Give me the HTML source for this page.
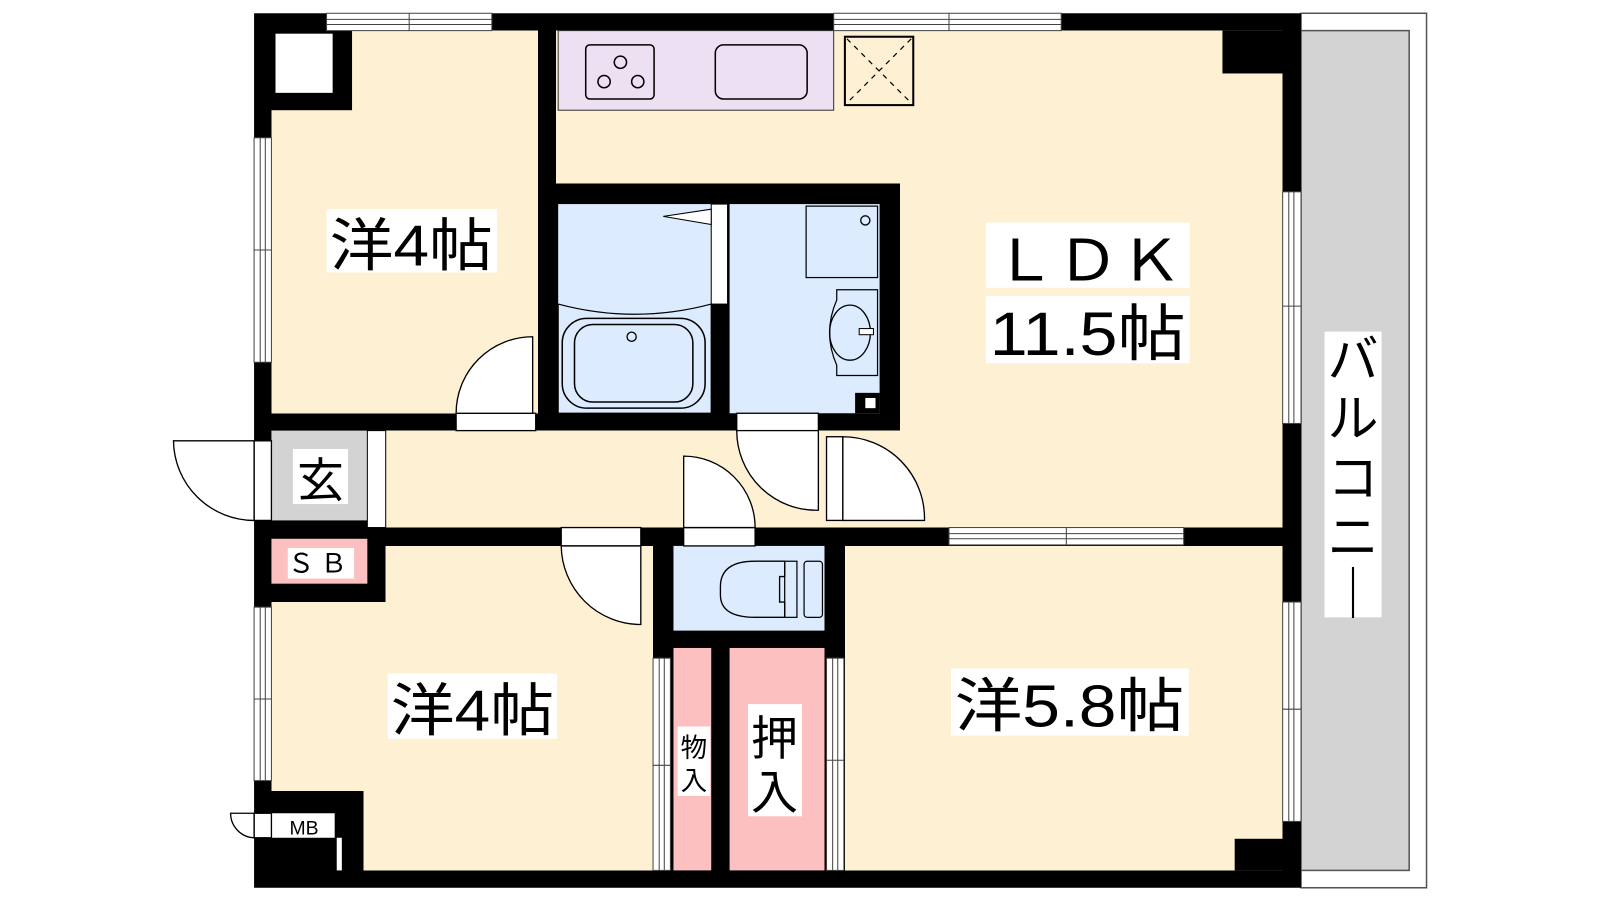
<!DOCTYPE html>
<html><head><meta charset="utf-8"><style>
html,body{margin:0;padding:0;background:#fff;width:1600px;height:900px;overflow:hidden}
svg{display:block}
text{font-family:"Liberation Sans","Noto Sans CJK JP",sans-serif;fill:#000}
</style></head><body>
<svg width="1600" height="900" viewBox="0 0 1568 882" xmlns="http://www.w3.org/2000/svg">
<!-- balcony -->
<rect x="1275" y="13" width="123" height="857" fill="#fff" stroke="#555" stroke-width="1.5"/>
<rect x="1275" y="30" width="106" height="823" fill="#d3d3d3" stroke="#555" stroke-width="1.5"/>
<!-- building mass -->
<rect x="249" y="13" width="1026" height="857" fill="#000"/>
<!-- rooms cream -->
<g fill="#fdf0d3" shape-rendering="crispEdges">
<path d="M266 108 L345 108 L345 30 L527 30 L527 405 L266 405 Z"/>
<path d="M545 30 L1257 30 L1257 517 L882 517 L882 422 L882 180 L545 180 Z"/>
<rect x="378" y="422" width="505" height="95"/>
<path d="M378 535 L640 535 L640 853 L356 853 L356 775 L266 775 L266 590 L378 590 Z"/>
<rect x="828" y="535" width="429" height="318"/>
</g>
<rect x="1198" y="30" width="59" height="42" fill="#000"/>
<rect x="1210" y="822" width="47" height="31" fill="#000"/>
<rect x="266" y="30" width="79" height="78" fill="#000"/>
<rect x="270" y="33" width="56" height="58" fill="#fff"/>
<!-- kitchen -->
<rect x="547" y="30" width="270" height="78" fill="#ede0f3" stroke="#333" stroke-width="1"/>
<rect x="574" y="44" width="67" height="53" rx="4" fill="none" stroke="#000" stroke-width="1.5"/>
<circle cx="608" cy="61" r="6" fill="none" stroke="#000" stroke-width="1.5"/>
<circle cx="592" cy="80" r="6" fill="none" stroke="#000" stroke-width="1.5"/>
<circle cx="625" cy="80" r="6" fill="none" stroke="#000" stroke-width="1.5"/>
<rect x="701" y="44" width="90" height="53" rx="8" fill="none" stroke="#000" stroke-width="1.5"/>
<rect x="828" y="36" width="67" height="67" fill="none" stroke="#000" stroke-width="2"/>
<path d="M830 38 L893 101 M893 38 L830 101" stroke="#000" stroke-width="1.2" stroke-dasharray="5,5"/>
<!-- bath & wash -->
<rect x="547" y="200" width="150" height="205" fill="#dcebfd"/>
<rect x="715" y="200" width="147" height="205" fill="#dcebfd"/>
<rect x="838" y="385" width="24" height="20" fill="#000"/>
<rect x="848" y="390" width="10" height="10" fill="#fff"/>
<rect x="697" y="200" width="16" height="98" fill="#fff" stroke="#000" stroke-width="1"/>
<path d="M697 205 L650 212 L697 220 Z" fill="#fff" stroke="#000" stroke-width="1"/>
<path d="M547 298 Q622 318 697 298 L697 405 L547 405 Z" fill="#dcebfd" stroke="#000" stroke-width="1.2"/>
<rect x="551" y="312" width="140" height="88" rx="24" fill="none" stroke="#000" stroke-width="1.5"/>
<rect x="563" y="318" width="116" height="76" rx="18" fill="none" stroke="#000" stroke-width="1.5"/>
<circle cx="619" cy="330" r="4.5" fill="none" stroke="#000" stroke-width="1.3"/>
<rect x="790" y="202" width="70" height="70" fill="#dcebfd" stroke="#000" stroke-width="1.2"/>
<circle cx="848" cy="216" r="4.5" fill="none" stroke="#000" stroke-width="1.3"/>
<path d="M820 284 L860 284 L860 368 L820 368 L820 358 Q806 326 820 294 Z" fill="#dcebfd" stroke="#000" stroke-width="1.2"/>
<ellipse cx="833" cy="326" rx="20" ry="27" fill="none" stroke="#000" stroke-width="1.3"/>
<rect x="842" y="322" width="14" height="6" fill="#fff" stroke="#000" stroke-width="1"/>
<!-- entrance -->
<rect x="266" y="422" width="94" height="88" fill="#d3d3d3"/>
<rect x="360" y="422" width="18" height="95" fill="#fff" stroke="#000" stroke-width="1"/>
<rect x="266" y="528" width="94" height="44" fill="#fcc0c0"/>
<!-- toilet -->
<rect x="660" y="535" width="148" height="83" fill="#dcebfd"/>
<path d="M769 550 L740 550 Q706 550 706 575 L706 583 Q706 605 740 605 L769 605 L769 590 L764 590 L764 565 L769 565 Z" fill="none" stroke="#000" stroke-width="1.3"/>
<rect x="769" y="550" width="12" height="55" fill="none" stroke="#000" stroke-width="1.2"/>
<rect x="788" y="550" width="18" height="55" rx="3" fill="none" stroke="#000" stroke-width="1.2"/>
<!-- closets -->
<rect x="660" y="635" width="37" height="218" fill="#fcc0c0"/>
<rect x="715" y="635" width="93" height="218" fill="#fcc0c0"/>
<!-- MB -->
<rect x="266" y="797" width="62" height="24" fill="#fff"/>
<rect x="330" y="821" width="5" height="32" fill="#fff"/>
<!-- windows -->
<g fill="#fff" stroke="#444" stroke-width="1">
<rect x="320" y="13" width="162" height="17"/><line x1="320" y1="19" x2="482" y2="19"/><line x1="320" y1="24" x2="482" y2="24"/><line x1="401" y1="13" x2="401" y2="30"/>
<rect x="817" y="13" width="223" height="17"/><line x1="817" y1="19" x2="1040" y2="19"/><line x1="817" y1="24" x2="1040" y2="24"/><line x1="930" y1="13" x2="930" y2="30"/>
<rect x="249" y="135" width="17" height="220"/><line x1="255" y1="135" x2="255" y2="355"/><line x1="260" y1="135" x2="260" y2="355"/><line x1="249" y1="245" x2="266" y2="245"/>
<rect x="249" y="595" width="17" height="170"/><line x1="255" y1="595" x2="255" y2="765"/><line x1="260" y1="595" x2="260" y2="765"/><line x1="249" y1="685" x2="266" y2="685"/>
<rect x="1257" y="188" width="18" height="227"/><line x1="1263" y1="188" x2="1263" y2="415"/><line x1="1268" y1="188" x2="1268" y2="415"/><line x1="1257" y1="300" x2="1275" y2="300"/>
<rect x="1257" y="590" width="18" height="215"/><line x1="1263" y1="590" x2="1263" y2="805"/><line x1="1268" y1="590" x2="1268" y2="805"/><line x1="1257" y1="695" x2="1275" y2="695"/>
<rect x="930" y="517" width="230" height="17"/><line x1="930" y1="523" x2="1160" y2="523"/><line x1="930" y1="528" x2="1160" y2="528"/><line x1="1045" y1="517" x2="1045" y2="534"/>
<rect x="640" y="645" width="17" height="208"/><line x1="646" y1="645" x2="646" y2="853"/><line x1="651" y1="645" x2="651" y2="853"/><line x1="640" y1="750" x2="657" y2="750"/>
<rect x="810" y="645" width="17" height="208"/><line x1="816" y1="645" x2="816" y2="853"/><line x1="821" y1="645" x2="821" y2="853"/><line x1="810" y1="745" x2="827" y2="745"/>
</g>
<!-- doors -->
<g fill="#fff" stroke="#000" stroke-width="1.3">
<rect x="447" y="405" width="78" height="17"/>
<path d="M522 330 L522 405 L447 405 A75 75 0 0 1 522 330 Z"/>
<rect x="722" y="405" width="80" height="17"/>
<path d="M722 422 L802 422 L802 500 A78 78 0 0 1 722 422 Z"/>
<rect x="810" y="428" width="16" height="82"/>
<path d="M826 428 L826 510 L906 510 A80 80 0 0 0 826 428 Z"/>
<rect x="670" y="517" width="70" height="18"/>
<path d="M670 447 L670 517 L740 517 A70 70 0 0 0 670 447 Z"/>
<rect x="550" y="517" width="78" height="18"/>
<path d="M550 535 L628 535 L628 612 A78 78 0 0 1 550 535 Z"/>
<rect x="249" y="432" width="17" height="78"/>
<path d="M249 432 L170 432 A79 79 0 0 0 249 510 Z"/>
<rect x="249" y="797" width="17" height="24"/>
<path d="M249 797 L226 797 A24 24 0 0 0 249 821 Z"/>
</g>
<!-- labels -->
<g fill="#fff">
<rect x="320" y="205" width="167" height="62"/>
<rect x="966" y="218" width="200" height="64"/>
<rect x="966" y="290" width="200" height="66"/>
<rect x="380" y="660" width="166" height="64"/>
<rect x="932" y="655" width="233" height="66"/>
<rect x="733" y="690" width="53" height="110"/>
<rect x="664" y="712" width="32" height="68"/>
<rect x="287" y="440" width="54" height="54"/>
<rect x="282" y="537" width="65" height="30"/>
<rect x="1298" y="325" width="56" height="280"/>
</g>
<text x="403" y="260" font-size="56" text-anchor="middle" textLength="160" lengthAdjust="spacingAndGlyphs">洋4帖</text>
<text x="1066" y="275" font-size="56" text-anchor="middle" textLength="185" lengthAdjust="spacingAndGlyphs">ＬＤＫ</text>
<text x="1066" y="348" font-size="60" text-anchor="middle" textLength="192" lengthAdjust="spacingAndGlyphs">11.5帖</text>
<text x="463" y="716" font-size="56" text-anchor="middle" textLength="160" lengthAdjust="spacingAndGlyphs">洋4帖</text>
<text x="1048" y="712" font-size="58" text-anchor="middle" textLength="225" lengthAdjust="spacingAndGlyphs">洋5.8帖</text>
<text x="759" y="740" font-size="46" text-anchor="middle">押</text>
<text x="759" y="793" font-size="46" text-anchor="middle">入</text>
<text x="680" y="742" font-size="26" text-anchor="middle">物</text>
<text x="680" y="774" font-size="26" text-anchor="middle">入</text>
<text x="314" y="487" font-size="46" text-anchor="middle">玄</text>
<text x="314" y="561" font-size="26" text-anchor="middle" letter-spacing="6">ＳＢ</text>
<text x="298" y="818" font-size="19" text-anchor="middle">MB</text>
<g font-size="50" text-anchor="middle">
<text x="1326" y="370">バ</text>
<text x="1326" y="428">ル</text>
<text x="1326" y="486">コ</text>
<text x="1326" y="544">ニ</text>
<text x="1326" y="600">｜</text>
</g>
</svg>
</body></html>
